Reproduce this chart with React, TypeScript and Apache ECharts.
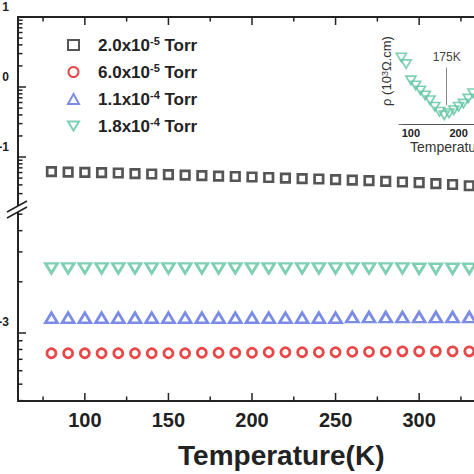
import React, { useEffect, useRef } from "react";
import * as echarts from "echarts";

// ---- data ----
const temperatures = [80, 90, 100, 110, 120, 130, 140, 150, 160, 170, 180, 190, 200, 210, 220, 230, 240, 250, 260, 270, 280, 290, 300, 310, 320, 330];
const rho20e5 = [0.0617, 0.061, 0.0604, 0.0597, 0.0591, 0.0581, 0.0572, 0.0562, 0.0553, 0.0544, 0.0535, 0.0527, 0.0518, 0.051, 0.0501, 0.0493, 0.0485, 0.0477, 0.0469, 0.0459, 0.045, 0.044, 0.043, 0.0418, 0.0405, 0.0389];
const rho60e5 = [0.00076, 0.00076, 0.00076, 0.00076, 0.00076, 0.00076, 0.00076, 0.00076, 0.00076, 0.000765, 0.000765, 0.000765, 0.000765, 0.00077, 0.00077, 0.00077, 0.00077, 0.00077, 0.000775, 0.000775, 0.000775, 0.00078, 0.00078, 0.00078, 0.00078, 0.00078];
const rho11e4 = [0.00123, 0.00123, 0.00123, 0.00123, 0.00123, 0.00123, 0.00123, 0.00123, 0.00123, 0.00123, 0.00123, 0.00123, 0.00123, 0.00123, 0.00123, 0.00123, 0.00123, 0.00123, 0.00124, 0.00124, 0.00124, 0.00124, 0.00124, 0.00124, 0.00124, 0.00124];
const rho18e4 = [0.0024, 0.0024, 0.0024, 0.0024, 0.0024, 0.0024, 0.0024, 0.0024, 0.0024, 0.0024, 0.0024, 0.0024, 0.0024, 0.0024, 0.0024, 0.0024, 0.0024, 0.0024, 0.0024, 0.0024, 0.0024, 0.0024, 0.00239, 0.00239, 0.00239, 0.00239];
const pressureMantissa = ["2.0", "6.0", "1.1", "1.8"];
const pressureExponent = ["-5", "-5", "-4", "-4"];

const insetTemperatures = [80, 90, 100, 110, 120, 130, 140, 150, 160, 170, 180, 190, 200, 210, 220, 230];
const insetRho = [2.52, 2.31, 1.79, 1.63, 1.47, 1.31, 1.16, 0.95, 0.79, 0.68, 0.74, 0.84, 0.95, 1.05, 1.21, 1.38];
const minimumTemperature = 175;
const minimumMarkerRange = [2.2, 1.0];

// axis ranges
const xMin = 60;
const xMax = 375;
const upperMin = 0.0187;
const upperMax = 10;
const lowerMin = 0.000398;
const lowerMax = 0.00515;
const upperDecades = [-2, -1, 0, 1];
const lowerDecades = [-4, -3, -2];
const xMajorTicks = [100, 150, 200, 250, 300, 350];
const xMinorTicks = [75, 125, 175, 225, 275, 325, 375];
const insetXMin = 75;
const insetXMax = 325;
const insetYMin = 0.4;
const insetYMax = 3.78;

const FONT = "'Liberation Sans', Arial, Helvetica, sans-serif";
const INK = "#222";
const COLORS = ["#2b2b2b", "#e31a1c", "#5a6fe0", "#5fc4a0"];
const DOWN_TRIANGLE = "path://M0,0L12,0L6,10Z";

function logTicks(decades: number[], lo: number, hi: number) {
  const out: number[][] = [];
  decades.forEach((n) => {
    for (let k = 1; k <= 9; k++) {
      const v = k * Math.pow(10, n);
      if (v >= lo * 0.999 && v <= hi * 1.001) out.push([xMin, v, k === 1 ? 8 : 4.5]);
    }
  });
  return out;
}

const tickStyle = { stroke: INK, lineWidth: 1.5 };
const makeRender = (kind: string) => (params: any, api: any) => {
  const p = api.coord([api.value(0), api.value(1)]);
  const len = api.value(2);
  let shape;
  if (kind === "y") shape = { x1: p[0], y1: p[1], x2: p[0] + len, y2: p[1] };
  else if (kind === "top") shape = { x1: p[0], y1: p[1], x2: p[0], y2: p[1] + len };
  else shape = { x1: p[0], y1: p[1], x2: p[0], y2: p[1] - len };
  return { type: "line", shape, style: tickStyle };
};

export default function App() {
  const ref = useRef<HTMLDivElement>(null);
  useEffect(() => {
    if (!ref.current) return;
    const chart = echarts.init(ref.current, undefined, { renderer: "svg" });
    const names = pressureMantissa.map((m, i) => `${m}x10^${pressureExponent[i]} Torr`);
    const symbols = ["rect", "circle", "triangle", DOWN_TRIANGLE];
    const sizes: any[] = [8.5, 9, [12, 10], [12, 10]];
    const seriesData = [rho20e5, rho60e5, rho11e4, rho18e4];

    const mainSeries = names.map((name, i) => ({
      type: "scatter",
      name,
      xAxisIndex: i === 0 ? 0 : 1,
      yAxisIndex: i === 0 ? 0 : 1,
      symbol: symbols[i],
      symbolSize: sizes[i],
      itemStyle: { color: "rgba(255,255,255,0)", borderColor: COLORS[i], borderWidth: 2.7 },
      data: temperatures.map((t, j) => [t, seriesData[i][j]]),
      silent: true,
      z: 4,
    }));

    const xTickData = (yv: number) => [
      ...xMajorTicks.map((t) => [t, yv, 8]),
      ...xMinorTicks.map((t) => [t, yv, 4.5]),
    ];

    const option: any = {
      animation: false,
      backgroundColor: "#fff",
      textStyle: { fontFamily: FONT },
      grid: [
        { left: 18, top: 17, width: 526.5, height: 191, outerBoundsMode: "none", containLabel: false },
        { left: 18, top: 212, width: 526.5, height: 189, outerBoundsMode: "none", containLabel: false },
        { left: 399, top: 18, width: 119.25, height: 106, show: true, backgroundColor: "#fff", borderWidth: 0, z: 1, outerBoundsMode: "none", containLabel: false },
      ],
      xAxis: [
        {
          type: "value", gridIndex: 0, position: "top", min: xMin, max: xMax, splitNumber: 6,
          axisLine: { show: true, lineStyle: { color: INK, width: 2 } },
          axisTick: { show: false }, axisLabel: { show: false }, splitLine: { show: false },
        },
        {
          type: "value", gridIndex: 1, position: "bottom", min: xMin, max: xMax, splitNumber: 6,
          axisLine: { show: true, lineStyle: { color: INK, width: 2 } },
          axisTick: { show: false }, splitLine: { show: false },
          axisLabel: { fontSize: 20, fontWeight: "bold", color: INK, margin: 9, showMinLabel: false, showMaxLabel: false, fontFamily: FONT },
          name: "Temperature(K)", nameLocation: "middle", nameGap: 40,
          nameTextStyle: { fontSize: 28, fontWeight: "bold", color: INK, fontFamily: FONT },
        },
        {
          type: "value", gridIndex: 2, min: insetXMin, max: insetXMax, splitNumber: 2,
          axisLine: { show: true, lineStyle: { color: "#555", width: 1 } },
          axisTick: { show: true, inside: true, length: 3, lineStyle: { color: "#555" } },
          splitLine: { show: false },
          axisLabel: { fontSize: 11, fontWeight: "bold", color: INK, margin: 3, showMinLabel: false, showMaxLabel: false, fontFamily: FONT },
          name: "Temperature(K)", nameLocation: "middle", nameGap: 16,
          nameTextStyle: { fontSize: 14, color: "#333", fontFamily: FONT },
        },
      ],
      yAxis: [
        {
          type: "log", logBase: 10, gridIndex: 0, min: upperMin, max: upperMax,
          axisLine: { show: true, lineStyle: { color: INK, width: 2 } },
          axisTick: { show: false }, splitLine: { show: false },
          axisLabel: {
            formatter: (v: number) => String(Math.round(Math.log10(v))),
            fontSize: 12, fontWeight: "bold", color: INK, margin: 9, verticalAlign: "bottom",
            padding: [0, 0, 4, 0], showMinLabel: false, showMaxLabel: true, fontFamily: FONT,
          },
        },
        {
          type: "log", logBase: 10, gridIndex: 1, min: lowerMin, max: lowerMax,
          axisLine: { show: true, lineStyle: { color: INK, width: 2 } },
          axisTick: { show: false }, splitLine: { show: false },
          axisLabel: {
            formatter: (v: number) => String(Math.round(Math.log10(v))),
            fontSize: 12, fontWeight: "bold", color: INK, margin: 9, verticalAlign: "bottom",
            padding: [0, 0, 5, 0], showMinLabel: false, showMaxLabel: false, fontFamily: FONT,
          },
        },
        {
          type: "value", gridIndex: 2, min: insetYMin, max: insetYMax, splitNumber: 3,
          axisLine: { show: true, lineStyle: { color: "#777", width: 1 } },
          axisTick: { show: true, inside: true, length: 3, lineStyle: { color: "#777" } },
          axisLabel: { show: false }, splitLine: { show: false },
          name: "ρ (10{s|3}Ω.cm)", nameLocation: "middle", nameRotate: 90, nameGap: 6,
          nameTextStyle: { fontSize: 13, color: "#333", fontFamily: FONT, rich: { s: { fontSize: 9, verticalAlign: "top", color: "#333" } } },
        },
      ],
      legend: {
        data: names,
        orient: "vertical",
        left: 62,
        top: 30,
        itemWidth: 11,
        itemHeight: 10,
        itemGap: 7,
        selectedMode: false,
        formatter: (name: string) => {
          const i = names.indexOf(name);
          return `${pressureMantissa[i]}x10{s|${pressureExponent[i]}} Torr`;
        },
        textStyle: {
          fontSize: 17, fontWeight: "bold", color: INK, fontFamily: FONT, lineHeight: 20,
          padding: [0, 0, 0, 14],
          rich: { s: { fontSize: 11, fontWeight: "bold", color: INK, verticalAlign: "top", fontFamily: FONT } },
        },
      },
      series: [
        ...mainSeries,
        {
          type: "scatter",
          name: "inset",
          xAxisIndex: 2,
          yAxisIndex: 2,
          symbol: DOWN_TRIANGLE,
          symbolSize: [10, 8.5],
          itemStyle: { color: "rgba(255,255,255,0)", borderColor: COLORS[3], borderWidth: 1.7 },
          data: insetTemperatures.map((t, j) => [t, insetRho[j]]),
          silent: true,
          z: 5,
          markLine: {
            silent: true,
            symbol: ["none", "none"],
            lineStyle: { color: "#888", width: 1, type: "solid" },
            label: { show: true, position: "start", formatter: `${minimumTemperature}K`, fontSize: 12, color: "#444", fontFamily: FONT, distance: 5 },
            data: [[{ coord: [minimumTemperature, minimumMarkerRange[0]] }, { coord: [minimumTemperature, minimumMarkerRange[1]] }]],
          },
        },
        { type: "custom", name: "yticks-upper", xAxisIndex: 0, yAxisIndex: 0, renderItem: makeRender("y"), data: logTicks(upperDecades, upperMin, upperMax), silent: true, z: 6 },
        { type: "custom", name: "yticks-lower", xAxisIndex: 1, yAxisIndex: 1, renderItem: makeRender("y"), data: logTicks(lowerDecades, lowerMin, lowerMax), silent: true, z: 6 },
        { type: "custom", name: "xticks-top", xAxisIndex: 0, yAxisIndex: 0, renderItem: makeRender("top"), data: xTickData(upperMax), silent: true, z: 6 },
        { type: "custom", name: "xticks-bottom", xAxisIndex: 1, yAxisIndex: 1, renderItem: makeRender("bottom"), data: xTickData(lowerMin), silent: true, z: 6 },
      ],
      graphic: [
        { type: "polygon", shape: { points: [[7, 212], [27, 201], [27, 207], [7, 218]] }, style: { fill: "#fff" }, z: 100 },
        { type: "line", shape: { x1: 7, y1: 212, x2: 27, y2: 201 }, style: { stroke: INK, lineWidth: 1.5 }, z: 101 },
        { type: "line", shape: { x1: 7, y1: 218, x2: 27, y2: 207 }, style: { stroke: INK, lineWidth: 1.5 }, z: 101 },
      ],
    };
    chart.setOption(option);
    return () => chart.dispose();
  }, []);
  return <div ref={ref} style={{ position: "fixed", left: 0, top: 0, width: 474, height: 474, background: "#fff" }} />;
}
